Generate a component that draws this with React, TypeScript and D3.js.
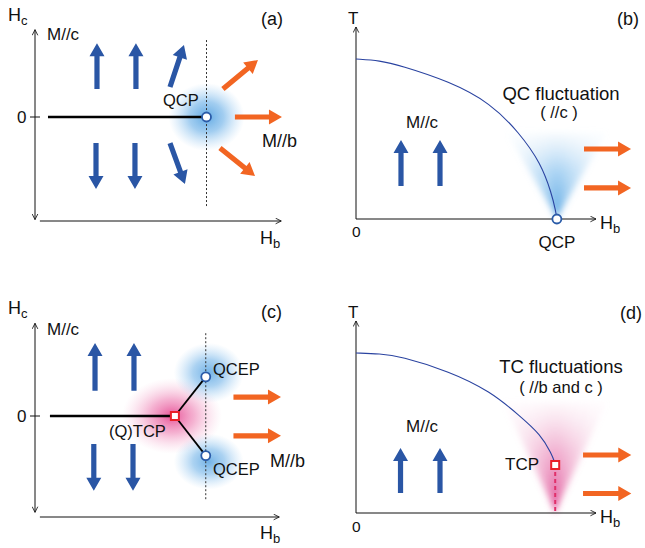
import * as d3 from 'd3'

// ---- data (schematic units) ----
// panels (a) and (c): Hb along x, Hc along y (0 at the first-order line)
const A_QCP = { hb: 0.70, hc: 0 }
const A_FIRST_ORDER = [{ hb: 0.053, hc: 0 }, { hb: 0.70, hc: 0 }]
const A_CRIT_LINE = [0.855, -1.0] // dashed Hc extent at Hb = QCP
const A_UP_ARROWS = [
  [0.253, 0.31, 0.253, 0.82],
  [0.412, 0.31, 0.412, 0.82],
  [0.551, 0.333, 0.608, 0.8],
]
const A_DOWN_ARROWS = [
  [0.249, -0.29, 0.249, -0.8],
  [0.408, -0.29, 0.408, -0.8],
  [0.551, -0.29, 0.612, -0.745],
]
const A_MB_ARROWS = [
  [0.767, 0.31, 0.91, 0.633],
  [0.816, 0, 1.008, 0],
  [0.755, -0.344, 0.898, -0.656],
]

const C_TCP = { hb: 0.571, hc: 0 }
const C_QCEP = [{ hb: 0.697, hc: 0.435 }, { hb: 0.697, hc: -0.44 }]
const C_FIRST_ORDER = [{ hb: 0.061, hc: 0 }, { hb: 0.571, hc: 0 }]
const C_CRIT_LINE = [0.92, -0.93]
const C_UP_ARROWS = [
  [0.245, 0.28, 0.245, 0.81],
  [0.404, 0.28, 0.404, 0.81],
]
const C_DOWN_ARROWS = [
  [0.24, -0.31, 0.24, -0.83],
  [0.4, -0.31, 0.4, -0.83],
]
const C_MB_ARROWS = [
  [0.81, 0.21, 1.004, 0.21],
  [0.81, -0.22, 1.004, -0.22],
]

// panels (b) and (d): Hb along x, T along y
const B_BOUNDARY: [number, number][] = [
  [0, 1.0], [0.1, 0.99], [0.183, 0.96], [0.39, 0.86], [0.56, 0.725],
  [0.68, 0.54], [0.77, 0.35], [0.815, 0.16], [0.832, 0.05], [0.837, 0],
]
const B_QCP = { hb: 0.837, t: 0 }
const B_UP_ARROWS = [
  [0.1875, 0.206, 0.1875, 0.494],
  [0.35, 0.206, 0.35, 0.494],
]
const B_MB_ARROWS = [
  [0.95, 0.4375, 1.146, 0.4375],
  [0.95, 0.194, 1.146, 0.194],
]
const B_CONE = { hb: 0.837, t0: 0, t1: 0.54, halfWidth: 0.205 }

const D_BOUNDARY: [number, number][] = [
  [0, 1.0], [0.1, 0.995], [0.183, 0.98], [0.39, 0.885], [0.56, 0.76],
  [0.68, 0.61], [0.77, 0.49], [0.815, 0.37], [0.827, 0.32], [0.83, 0.3],
]
const D_TCP = { hb: 0.83, t: 0.3 }
const D_UP_ARROWS = [
  [0.1855, 0.125, 0.1855, 0.406],
  [0.35, 0.125, 0.35, 0.406],
]
const D_MB_ARROWS = [
  [0.946, 0.3625, 1.147, 0.3625],
  [0.946, 0.122, 1.147, 0.122],
]
const D_CONE = { hb: 0.83, t0: 0, t1: 0.69, halfWidth: 0.21 }

const BLUE = '#2a56a5'
const ORANGE = '#f26522'
const CURVE = '#2a43a0'
const RED = '#e8202a'
const FONT = '"Liberation Sans", Arial, Helvetica, sans-serif'

// scales
const xA = d3.scaleLinear().domain([0, 1]).range([35, 280])
const yA = d3.scaleLinear().domain([-1, 1]).range([207, 27])
const xC = xA
const yC = d3.scaleLinear().domain([-1, 1]).range([506, 326])
const xB = d3.scaleLinear().domain([0, 1]).range([356, 596])
const yB = d3.scaleLinear().domain([0, 1.2]).range([219, 27])
const xD = xB
const yD = d3.scaleLinear().domain([0, 1.2]).range([513, 321])

// block arrow polygon between two pixel points
function blockArrow(x0: number, y0: number, x1: number, y1: number, shaft = 5.2, head = 15, headLen = 13) {
  const dx = x1 - x0, dy = y1 - y0
  const len = Math.hypot(dx, dy)
  const ux = dx / len, uy = dy / len
  const nx = -uy, ny = ux
  const bx = x1 - ux * headLen, by = y1 - uy * headLen
  const pts = [
    [x0 + nx * shaft / 2, y0 + ny * shaft / 2],
    [bx + nx * shaft / 2, by + ny * shaft / 2],
    [bx + nx * head / 2, by + ny * head / 2],
    [x1, y1],
    [bx - nx * head / 2, by - ny * head / 2],
    [bx - nx * shaft / 2, by - ny * shaft / 2],
    [x0 - nx * shaft / 2, y0 - ny * shaft / 2],
  ]
  return 'M' + pts.map(p => p.join(',')).join('L') + 'Z'
}

function Arrows({ list, sx, sy, color }: { list: number[][]; sx: any; sy: any; color: string }) {
  return (
    <>
      {list.map((a, i) => (
        <path key={i} d={blockArrow(sx(a[0]), sy(a[1]), sx(a[2]), sy(a[3]))} fill={color} />
      ))}
    </>
  )
}

// thin axis line with open arrowhead(s)
function Axis({ x1, y1, x2, y2, both = false }: { x1: number; y1: number; x2: number; y2: number; both?: boolean }) {
  return (
    <line x1={x1} y1={y1} x2={x2} y2={y2} stroke="#111" strokeWidth={1}
      markerEnd="url(#axhead)" markerStart={both ? 'url(#axhead-start)' : undefined} />
  )
}

function Cone({ cone, sx, sy, grad }: { cone: typeof B_CONE; sx: any; sy: any; grad: string }) {
  const ax = sx(cone.hb), ay = sy(cone.t0), ty = sy(cone.t1)
  const fracs = [1, 0.72, 0.45, 0.22]
  return (
    <g filter="url(#soft)">
      {fracs.map((f, i) => {
        const hw = (sx(cone.hb + cone.halfWidth) - ax) * f
        return (
          <path key={i} d={`M${ax},${ay}L${ax - hw},${ty}L${ax + hw},${ty}Z`}
            fill={`url(#${grad})`} opacity={i === 0 ? 0.6 : 0.35} />
        )
      })}
    </g>
  )
}

const txt = { fontFamily: FONT, fill: '#111' }

function Sub({ x, y, main, sub }: { x: number; y: number; main: string; sub: string }) {
  return (
    <text x={x} y={y} fontSize={18} style={txt}>
      {main}
      <tspan fontSize={13} dy={4}>{sub}</tspan>
    </text>
  )
}

export default function App() {
  const line = d3.line<[number, number]>().curve(d3.curveBasis)
  const bPath = line(B_BOUNDARY.map(d => [xB(d[0]), yB(d[1])]))
  const dPath = line(D_BOUNDARY.map(d => [xD(d[0]), yD(d[1])]))

  return (
    <svg width={645} height={548} viewBox="0 0 645 548"
      style={{ position: 'absolute', left: 0, top: 0, background: '#fff' }}>
      <defs>
        <marker id="axhead" viewBox="0 0 10 10" refX={9} refY={5} markerWidth={7} markerHeight={7}
          orient="auto" markerUnits="userSpaceOnUse">
          <path d="M1,1L9,5L1,9" fill="none" stroke="#111" strokeWidth={1.2} />
        </marker>
        <marker id="axhead-start" viewBox="0 0 10 10" refX={9} refY={5} markerWidth={7} markerHeight={7}
          orient="auto-start-reverse" markerUnits="userSpaceOnUse">
          <path d="M1,1L9,5L1,9" fill="none" stroke="#111" strokeWidth={1.2} />
        </marker>
        <radialGradient id="glowBlue">
          <stop offset="0%" stopColor="#5aa5e2" stopOpacity={0.95} />
          <stop offset="45%" stopColor="#7ab8ea" stopOpacity={0.7} />
          <stop offset="100%" stopColor="#a9d2f3" stopOpacity={0} />
        </radialGradient>
        <radialGradient id="glowPink">
          <stop offset="0%" stopColor="#e64c94" stopOpacity={0.95} />
          <stop offset="45%" stopColor="#ee7fb3" stopOpacity={0.6} />
          <stop offset="100%" stopColor="#f7c1da" stopOpacity={0} />
        </radialGradient>
        <linearGradient id="coneBlue" x1="0" y1="1" x2="0" y2="0">
          <stop offset="0%" stopColor="#4a9ee0" stopOpacity={1} />
          <stop offset="55%" stopColor="#8cc4ef" stopOpacity={0.65} />
          <stop offset="100%" stopColor="#cfe6f8" stopOpacity={0.1} />
        </linearGradient>
        <linearGradient id="conePink" x1="0" y1="1" x2="0" y2="0">
          <stop offset="0%" stopColor="#dc3f8c" stopOpacity={1} />
          <stop offset="55%" stopColor="#ea8dbb" stopOpacity={0.6} />
          <stop offset="100%" stopColor="#f6d0e3" stopOpacity={0.1} />
        </linearGradient>
        <filter id="soft" x="-30%" y="-30%" width="160%" height="160%">
          <feGaussianBlur stdDeviation={3} />
        </filter>
      </defs>

      {/* ---------- (a) ---------- */}
      <g>
        <ellipse cx={xA(A_QCP.hb)} cy={yA(A_QCP.hc)} rx={38} ry={34} fill="url(#glowBlue)" />
        <Axis x1={xA(0)} y1={yA(-1.14)} x2={xA(0)} y2={yA(0.97)} both />
        <Axis x1={xA(0.02)} y1={221} x2={xA(1.005)} y2={221} />
        <line x1={30} x2={40} y1={yA(0)} y2={yA(0)} stroke="#111" />
        <line x1={xA(A_QCP.hb)} x2={xA(A_QCP.hb)} y1={yA(A_CRIT_LINE[0])} y2={yA(A_CRIT_LINE[1])}
          stroke="#333" strokeWidth={1} strokeDasharray="2,2" />
        <line x1={xA(A_FIRST_ORDER[0].hb)} x2={xA(A_FIRST_ORDER[1].hb)}
          y1={yA(A_FIRST_ORDER[0].hc)} y2={yA(A_FIRST_ORDER[1].hc)} stroke="#000" strokeWidth={2.6} />
        <circle cx={xA(A_QCP.hb)} cy={yA(A_QCP.hc)} r={4.5} fill="#fff" stroke="#2a5ba8" strokeWidth={1.8} />
        <Arrows list={A_UP_ARROWS} sx={xA} sy={yA} color={BLUE} />
        <Arrows list={A_DOWN_ARROWS} sx={xA} sy={yA} color={BLUE} />
        <Arrows list={A_MB_ARROWS} sx={xA} sy={yA} color={ORANGE} />
        <Sub x={8} y={21} main="H" sub="c" />
        <text x={47} y={40} fontSize={17} style={txt}>M//c</text>
        <text x={17} y={123} fontSize={17} style={txt}>0</text>
        <text x={261} y={25} fontSize={18} style={txt}>(a)</text>
        <text x={163} y={106} fontSize={16.5} style={txt}>QCP</text>
        <text x={262} y={147} fontSize={18} style={txt}>M//b</text>
        <Sub x={260} y={244} main="H" sub="b" />
      </g>

      {/* ---------- (b) ---------- */}
      <g>
        <Cone cone={B_CONE} sx={xB} sy={yB} grad="coneBlue" />
        <Axis x1={xB(0)} y1={yB(0)} x2={xB(0)} y2={yB(1.2)} />
        <Axis x1={xB(0)} y1={yB(0)} x2={xB(1.0)} y2={yB(0)} />
        <path d={bPath ?? ''} fill="none" stroke={CURVE} strokeWidth={1.1} />
        <circle cx={xB(B_QCP.hb)} cy={yB(B_QCP.t)} r={4.5} fill="#fff" stroke="#2a5ba8" strokeWidth={1.8} />
        <Arrows list={B_UP_ARROWS} sx={xB} sy={yB} color={BLUE} />
        <Arrows list={B_MB_ARROWS} sx={xB} sy={yB} color={ORANGE} />
        <text x={348} y={24} fontSize={17} style={txt}>T</text>
        <text x={617} y={25} fontSize={18} style={txt}>(b)</text>
        <text x={352} y={237} fontSize={15.5} style={txt}>0</text>
        <text x={xB(B_QCP.hb)} y={248} fontSize={17} textAnchor="middle" style={txt}>QCP</text>
        <Sub x={600} y={229} main="H" sub="b" />
        <text x={561} y={100} fontSize={18.5} textAnchor="middle" style={txt}>QC fluctuation</text>
        <text x={559} y={118} fontSize={16.5} textAnchor="middle" style={txt}>( //c )</text>
        <text x={406} y={128} fontSize={17} style={txt}>M//c</text>
      </g>

      {/* ---------- (c) ---------- */}
      <g>
        <ellipse cx={172} cy={yC(0)} rx={50} ry={38} fill="url(#glowPink)" />
        <ellipse cx={xC(C_QCEP[0].hb) + 3} cy={yC(C_QCEP[0].hc) - 4} rx={35} ry={30} fill="url(#glowBlue)" opacity={0.9} />
        <ellipse cx={xC(C_QCEP[1].hb) + 3} cy={yC(C_QCEP[1].hc) + 6} rx={35} ry={28} fill="url(#glowBlue)" opacity={0.9} />
        <Axis x1={xC(0)} y1={yC(-1.07)} x2={xC(0)} y2={yC(1.03)} both />
        <Axis x1={xC(0.02)} y1={517} x2={xC(0.997)} y2={517} />
        <line x1={30} x2={40} y1={yC(0)} y2={yC(0)} stroke="#111" />
        <line x1={xC(C_QCEP[0].hb)} x2={xC(C_QCEP[0].hb)} y1={yC(C_CRIT_LINE[0])} y2={yC(C_CRIT_LINE[1])}
          stroke="#333" strokeWidth={1} strokeDasharray="2,2" />
        <line x1={xC(C_FIRST_ORDER[0].hb)} x2={xC(C_FIRST_ORDER[1].hb)}
          y1={yC(0)} y2={yC(0)} stroke="#000" strokeWidth={2.6} />
        {C_QCEP.map((q, i) => (
          <line key={i} x1={xC(C_TCP.hb)} y1={yC(C_TCP.hc)} x2={xC(q.hb)} y2={yC(q.hc)} stroke="#000" strokeWidth={1.8} />
        ))}
        {C_QCEP.map((q, i) => (
          <circle key={i} cx={xC(q.hb)} cy={yC(q.hc)} r={4.5} fill="#fff" stroke="#2a5ba8" strokeWidth={1.8} />
        ))}
        <rect x={xC(C_TCP.hb) - 4} y={yC(C_TCP.hc) - 4} width={8} height={8} fill="#fff" stroke={RED} strokeWidth={2} />
        <Arrows list={C_UP_ARROWS} sx={xC} sy={yC} color={BLUE} />
        <Arrows list={C_DOWN_ARROWS} sx={xC} sy={yC} color={BLUE} />
        <Arrows list={C_MB_ARROWS} sx={xC} sy={yC} color={ORANGE} />
        <Sub x={8} y={314} main="H" sub="c" />
        <text x={47} y={335} fontSize={17} style={txt}>M//c</text>
        <text x={17} y={422} fontSize={17} style={txt}>0</text>
        <text x={261} y={318} fontSize={18} style={txt}>(c)</text>
        <text x={213} y={375} fontSize={16.5} style={txt}>QCEP</text>
        <text x={213} y={475} fontSize={16.5} style={txt}>QCEP</text>
        <text x={109} y={437} fontSize={16.5} style={txt}>(Q)TCP</text>
        <text x={270} y={467} fontSize={18} style={txt}>M//b</text>
        <Sub x={260} y={539} main="H" sub="b" />
      </g>

      {/* ---------- (d) ---------- */}
      <g>
        <Cone cone={D_CONE} sx={xD} sy={yD} grad="conePink" />
        <Axis x1={xD(0)} y1={yD(0)} x2={xD(0)} y2={yD(1.2)} />
        <Axis x1={xD(0)} y1={yD(0)} x2={xD(1.0)} y2={yD(0)} />
        <path d={dPath ?? ''} fill="none" stroke={CURVE} strokeWidth={1.1} />
        <line x1={xD(D_TCP.hb)} x2={xD(D_TCP.hb)} y1={yD(D_TCP.t)} y2={yD(0)}
          stroke="#e0306a" strokeWidth={2} strokeDasharray="4,3" />
        <rect x={xD(D_TCP.hb) - 4} y={yD(D_TCP.t) - 4} width={8} height={8} fill="#fff" stroke={RED} strokeWidth={2} />
        <Arrows list={D_UP_ARROWS} sx={xD} sy={yD} color={BLUE} />
        <Arrows list={D_MB_ARROWS} sx={xD} sy={yD} color={ORANGE} />
        <text x={348} y={318} fontSize={17} style={txt}>T</text>
        <text x={620} y={319} fontSize={18} style={txt}>(d)</text>
        <text x={352} y={532} fontSize={15.5} style={txt}>0</text>
        <Sub x={600} y={523} main="H" sub="b" />
        <text x={561} y={373} fontSize={18.5} textAnchor="middle" style={txt}>TC fluctuations</text>
        <text x={561} y={393} fontSize={16.5} textAnchor="middle" style={txt}>( //b and c )</text>
        <text x={406} y={432} fontSize={17} style={txt}>M//c</text>
        <text x={505} y={470} fontSize={17} style={txt}>TCP</text>
      </g>
    </svg>
  )
}
